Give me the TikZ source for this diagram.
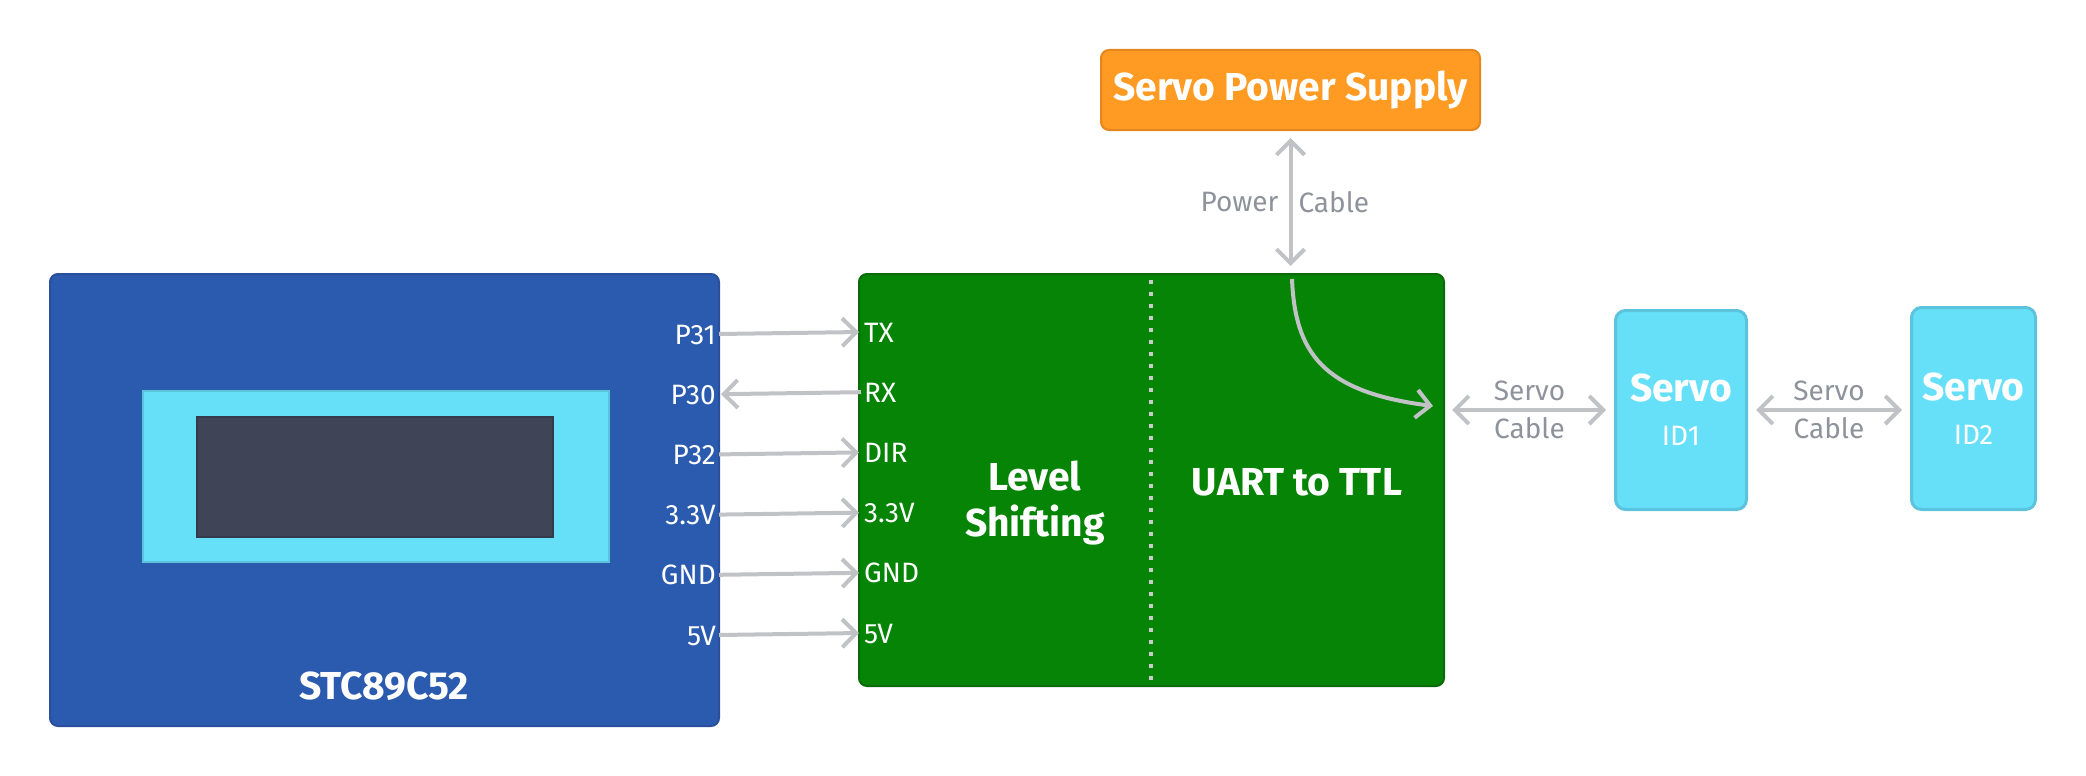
\documentclass[tikz,border=0pt]{standalone}
\usepackage{fontspec}
\setmainfont{Fira Sans}
\usepackage{xcolor}
\usetikzlibrary{shapes,arrows,positioning,calc,arrows.meta}

\definecolor{mcublue}{HTML}{2B5BAF}
\definecolor{mcuedge}{HTML}{284E9C}
\definecolor{bezel}{HTML}{66E0F8}
\definecolor{bezeledge}{HTML}{5BC3DC}
\definecolor{lcd}{HTML}{3F4556}
\definecolor{lcdedge}{HTML}{353A4A}
\definecolor{pcbgreen}{HTML}{068406}
\definecolor{pcbedge}{HTML}{0B6B0B}
\definecolor{psuorange}{HTML}{FF9A22}
\definecolor{psuedge}{HTML}{E5861E}
\definecolor{wiregray}{HTML}{C0C2C6}
\definecolor{cablegray}{HTML}{8E939B}
\definecolor{dotgray}{HTML}{C9CDC9}

\tikzset{barb/.tip={Straight Barb[length=14pt,width=28pt]}}

\begin{document}
\begin{tikzpicture}[x=1pt, y=-1pt,
    blk/.style={draw, rounded corners=8pt, line width=2pt, anchor=north west, inner sep=0pt},
    pinlbl/.style={font=\fontsize{28}{34}\selectfont, text=white, inner sep=3pt, text height=20pt, text depth=0pt},
    wire/.style={draw=wiregray, line width=4pt},
    cbl/.style={font=\fontsize{28}{38}\selectfont, text=cablegray, align=center},
    title/.style={font=\bfseries\fontsize{39}{46}\selectfont, text=white, align=center},
    servo/.style={blk, fill=bezel, draw=bezeledge, line width=3pt, rounded corners=10pt, align=center, text=white, font=\fontsize{28}{44}\selectfont}
]
    \useasboundingbox (0,0) rectangle (2086,776);

    % Microcontroller
    \node [blk, fill=mcublue, draw=mcuedge, minimum width=669pt, minimum height=452pt] (mcu) at (49,273) {};
    \node [draw=bezeledge, fill=bezel, line width=2pt, anchor=north west, inner sep=0pt, minimum width=466pt, minimum height=171pt] (bezel) at (142,390) {};
    \node [draw=lcdedge, fill=lcd, line width=2pt, anchor=north west, inner sep=0pt, minimum width=356pt, minimum height=120pt] (lcd) at (196,416) {};
    \node [title] (mcuname) at (384,686) {STC89C52};

    % Level shifter / UART board
    \node [blk, fill=pcbgreen, draw=pcbedge, minimum width=585pt, minimum height=412pt] (ctrl) at (858,273) {};
    \draw [dotgray, line width=4pt, dash pattern=on 4pt off 8pt] (1151,280) -- (1151,682);
    \node [title] (lvl) at (1035,503) {Level\\Shifting};
    \node [title] (uart) at (1297,482) {UART to TTL};

    % Pins
    \foreach \i/\mpin/\spin in {0/P31/TX, 1/P30/RX, 2/P32/DIR, 3/3.3V/3.3V, 4/GND/GND, 5/5V/5V} {
        \node [pinlbl, anchor=east] (m\i) at (719,{334+60.2*\i}) {\mpin};
        \node [pinlbl, anchor=west] (s\i) at (861,{332+60.2*\i}) {\spin};
    }
    \foreach \i in {0,2,3,4,5} {
        \draw [wire, -barb, shorten >=2pt] (m\i.east) -- (s\i.west);
    }
    \draw [wire, -barb, shorten >=2pt] (s1.west) -- (m1.east);

    % Power supply
    \node [blk, fill=psuorange, draw=psuedge, minimum width=379pt, minimum height=80pt, title] (psu) at (1100,49) {Servo Power Supply};
    \draw [wire, barb-barb, shorten <=7pt, shorten >=7pt] (psu.south) -- (psu.south |- ctrl.north);
    \node [cbl, anchor=east] (pwr) at (1282,202) {Power};
    \node [cbl, anchor=west] (pwrcbl) at (1295,202) {Cable};
    \coordinate (pwrin) at (1292,279);
    \coordinate (pwrout) at (1433,406);
    \draw [wire, -barb] (pwrin) .. controls (1295,352) and (1322,392) .. (pwrout);

    % Servos
    \node [servo, minimum width=131pt, minimum height=199pt] (servo1) at (1614,309)
        {{\bfseries\fontsize{39}{44}\selectfont Servo}\\ID1};
    \node [servo, minimum width=124pt, minimum height=202pt] (servo2) at (1910,306)
        {{\bfseries\fontsize{39}{44}\selectfont Servo}\\ID2};

    \draw [wire, barb-barb, shorten <=7pt, shorten >=8pt] (servo1.west -| ctrl.east) -- (servo1.west);
    \node [cbl] (cbl1) at ($(servo1.west -| ctrl.east)!0.5!(servo1.west)$) {Servo\\Cable};
    \draw [wire, barb-barb, shorten <=8pt, shorten >=8pt] (servo1.east) -- (servo2.west |- servo1.east);
    \node [cbl] (cbl2) at ($(servo1.east)!0.5!(servo2.west |- servo1.east)$) {Servo\\Cable};
\end{tikzpicture}
\end{document}
